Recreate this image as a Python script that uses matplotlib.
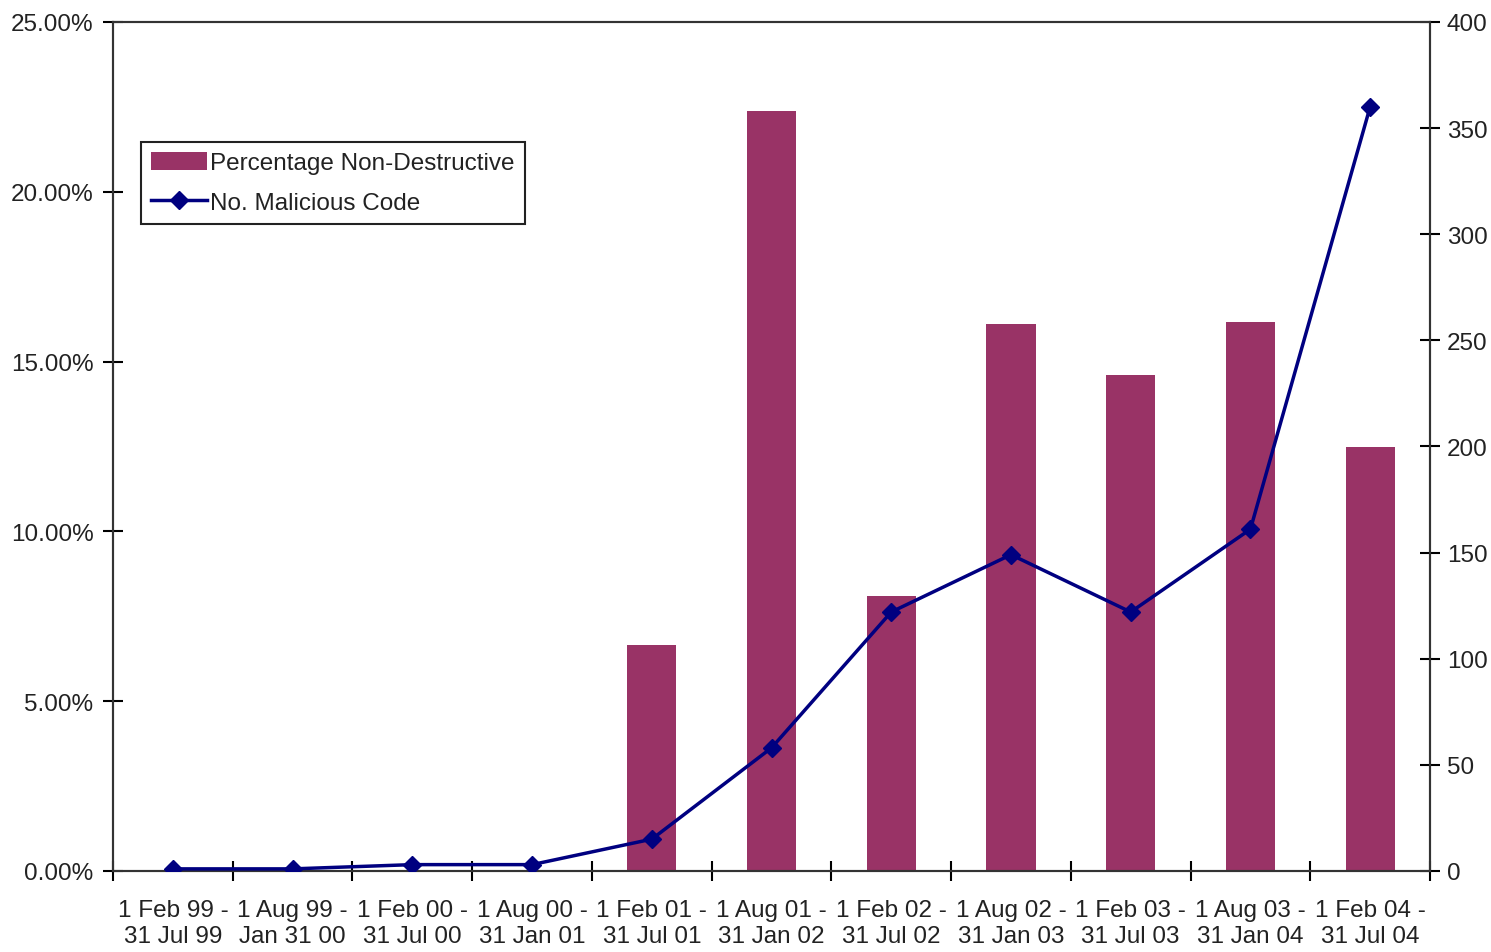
import matplotlib
matplotlib.use("Agg")
import matplotlib.pyplot as plt
from matplotlib.ticker import FuncFormatter, MultipleLocator
import numpy as np

plt.rcParams['font.family'] = ['Liberation Sans', 'DejaVu Sans']

# periods (two-line labels as printed under the axis)
periods = [
    "1 Feb 99 -\n31 Jul 99", "1 Aug 99 -\nJan 31 00", "1 Feb 00 -\n31 Jul 00",
    "1 Aug 00 -\n31 Jan 01", "1 Feb 01 -\n31 Jul 01", "1 Aug 01 -\n31 Jan 02",
    "1 Feb 02 -\n31 Jul 02", "1 Aug 02 -\n31 Jan 03", "1 Feb 03 -\n31 Jul 03",
    "1 Aug 03 -\n31 Jan 04", "1 Feb 04 -\n31 Jul 04",
]
pct_non_destructive = [0.0, 0.0, 0.0, 0.0, 6.65, 22.38, 8.10, 16.11, 14.60, 16.17, 12.49]
no_malicious = [1, 1, 3, 3, 15, 58, 122, 149, 122, 161, 360]

bar_color = '#993366'
line_color = '#000080'
text_color = '#222222'
fs = 17.5

fig = plt.figure(figsize=(14.91, 9.53), dpi=100)
ax = fig.add_axes((0.0758, 0.085, 0.8833, 0.891))
ax2 = ax.twinx()

x = np.arange(len(periods))
bars = ax.bar(x, pct_non_destructive, width=0.41, color=bar_color, zorder=2,
              label='Percentage Non-Destructive')
line, = ax2.plot(x, no_malicious, color=line_color, lw=2.5, marker='D', ms=9,
                 zorder=3, label='No. Malicious Code')

ax.set_xlim(-0.5, len(periods) - 0.5)
ax.set_ylim(0, 25)
ax2.set_ylim(0, 400)

ax.yaxis.set_major_locator(MultipleLocator(5))
ax.yaxis.set_major_formatter(FuncFormatter(lambda v, p: f"{v:.2f}%"))
ax2.yaxis.set_major_locator(MultipleLocator(50))

ax.set_xticks(x)
ax.set_xticklabels(periods, linespacing=1.25)
ax.set_xticks(np.arange(-0.5, len(periods), 1.0), minor=True)
ax.tick_params(axis='x', which='major', length=0, pad=20, labelsize=fs,
               labelcolor=text_color)
ax.tick_params(axis='x', which='minor', direction='inout', length=14, width=1.5)
ax.tick_params(axis='y', direction='inout', length=14, width=1.5, labelsize=fs,
               labelcolor=text_color, pad=7)
ax2.tick_params(axis='y', direction='inout', length=14, width=1.5, labelsize=fs,
                labelcolor=text_color, pad=5)

for a in (ax, ax2):
    for s in a.spines.values():
        s.set_linewidth(1.5)
        s.set_color('#333333')

ax.set_zorder(ax2.get_zorder() - 1)
ax2.patch.set_visible(False)

leg = ax2.legend([bars, line], ['Percentage Non-Destructive', 'No. Malicious Code'],
                 loc='upper left', bbox_to_anchor=(0.0213, 0.8587), borderaxespad=0,
                 fancybox=False, framealpha=1, edgecolor='#222222', fontsize=fs,
                 handlelength=2.3, handletextpad=0.15, borderpad=0.4, labelspacing=0.7,
                 handleheight=0.8)
leg.get_frame().set_linewidth(1.5)
for t in leg.get_texts():
    t.set_color(text_color)

fig.savefig('out.png', dpi=100)
